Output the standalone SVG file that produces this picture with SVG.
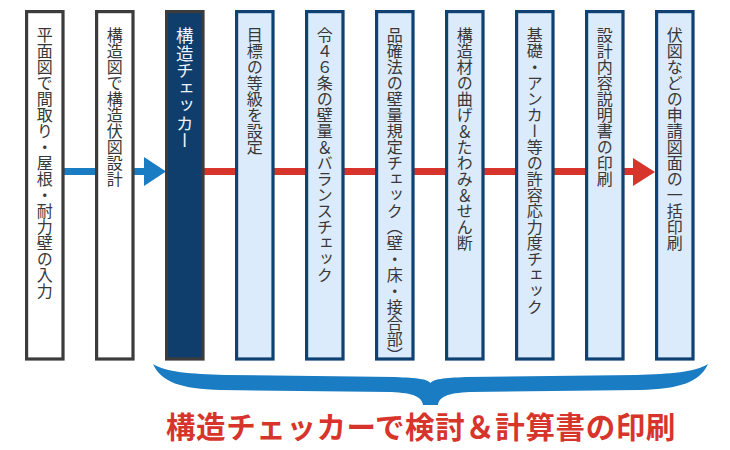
<svg xmlns="http://www.w3.org/2000/svg" width="730" height="450" viewBox="0 0 730 450">
<style>
.box{stroke-width:3.2}
.plain{fill:#ffffff;stroke:#3c3c3c}
.dark{fill:#0f3e6c;stroke:#3c3c3c}
.light{fill:#dcebfb;stroke:#0f4272}
.vt{font-family:"Noto Sans CJK JP","Noto Sans",sans-serif;font-size:16px;fill:#383838;writing-mode:vertical-rl;text-orientation:mixed}
.vtw{fill:#eef4fb;font-size:17.5px}
.cap{font-family:"Noto Sans CJK JP","Noto Sans",sans-serif;font-size:29.5px;font-weight:bold;fill:#d7352b;letter-spacing:0.6px}
</style>
<rect width="730" height="450" fill="#ffffff"/>
<g id="connectors">
<rect x="63" y="168" width="83" height="7" fill="#1a7cc2"/>
<polygon points="144,157 166,171.5 144,186" fill="#1a7cc2"/>
<rect x="204" y="168" width="431" height="7" fill="#d7352b"/>
<polygon points="633,158 655,172 633,186" fill="#d7352b"/>
</g>
<g id="n1"><rect class="box plain" x="26.6" y="11.6" width="36.4" height="347.4"/><text class="vt" x="44.8" y="27">平面図で間取り・屋根・耐力壁の入力</text></g>
<g id="n2"><rect class="box plain" x="96.6" y="11.6" width="36.4" height="347.4"/><text class="vt" x="114.8" y="27">構造図で構造伏図設計</text></g>
<g id="n3"><rect class="box dark" x="166.6" y="11.6" width="36.4" height="347.4"/><text class="vt vtw" x="184.8" y="27">構造チェッカー</text></g>
<g id="n4"><rect class="box light" x="236.6" y="11.6" width="36.4" height="347.4"/><text class="vt" x="254.8" y="27">目標の等級を設定</text></g>
<g id="n5"><rect class="box light" x="306.6" y="11.6" width="36.4" height="347.4"/><text class="vt" x="324.8" y="27">令４６条の壁量＆バランスチェック</text></g>
<g id="n6"><rect class="box light" x="376.6" y="11.6" width="36.4" height="347.4"/><text class="vt" x="394.8" y="27">品確法の壁量規定チェック（壁・床・接合部）</text></g>
<g id="n7"><rect class="box light" x="446.6" y="11.6" width="36.4" height="347.4"/><text class="vt" x="464.8" y="27">構造材の曲げ＆たわみ＆せん断</text></g>
<g id="n8"><rect class="box light" x="516.6" y="11.6" width="36.4" height="347.4"/><text class="vt" x="534.8" y="27">基礎・アンカー等の許容応力度チェック</text></g>
<g id="n9"><rect class="box light" x="586.6" y="11.6" width="36.4" height="347.4"/><text class="vt" x="604.8" y="27">設計内容説明書の印刷</text></g>
<g id="n10"><rect class="box light" x="656.6" y="11.6" width="36.4" height="347.4"/><text class="vt" x="674.8" y="27">伏図などの申請図面の一括印刷</text></g>
<g id="brace">
<path fill="#1a7cc2" d="M153,364 C166,372 190,374 225,375 L395,377 C418,378 427,379 430.5,383 C434,379 443,378 466,377 L636,375 C671,374 695,372 708,364 C700,382 680,389 640,390 L470,392 C447,393 439,397 438,405 L423,405 C422,397 414,393 391,392 L221,390 C181,389 161,382 153,364 Z"/>
</g>
<text class="cap" x="166" y="438">構造チェッカーで検討＆計算書の印刷</text>
</svg>
